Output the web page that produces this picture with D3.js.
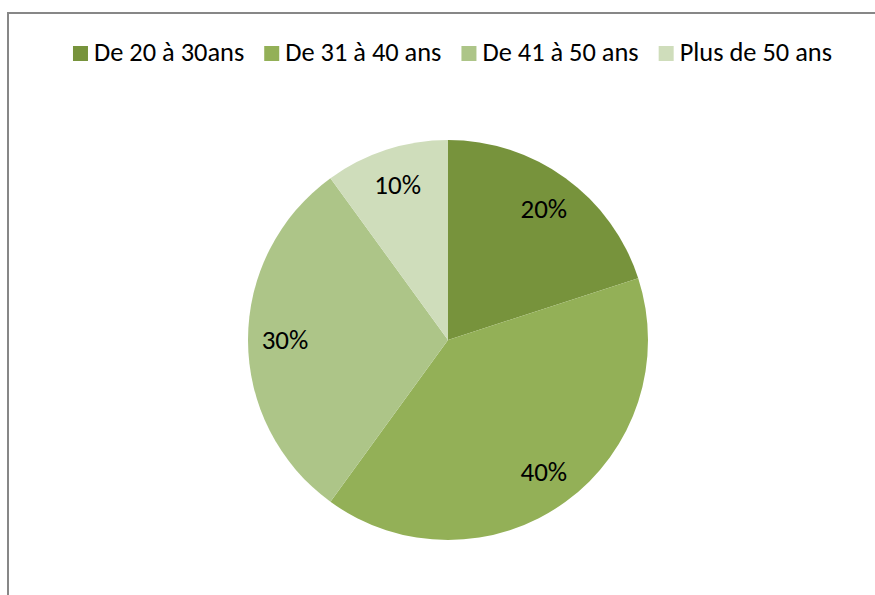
<!DOCTYPE html>
<html>
<head>
<meta charset="utf-8">
<script src="https://cdn.jsdelivr.net/npm/d3@7"></script>
<style>
  body { margin: 0; background: #fff; }
  text { font-family: Carlito, Calibri, Lato, sans-serif; fill: #000; }
</style>
</head>
<body>
<svg id="pie-chart-svg" width="875" height="595"></svg>
<script>
let categories = ["De 20 à 30ans", "De 31 à 40 ans", "De 41 à 50 ans", "Plus de 50 ans"];
let values = [20, 40, 30, 10];
let labels = ["20%", "40%", "30%", "10%"];
let colors = ["#77933c", "#93b057", "#adc588", "#cfddbb"];

let svg = d3.select("#pie-chart-svg");
let width = +svg.attr("width");
let height = +svg.attr("height");

// chart frame (only top and left edges visible)
svg.append("path")
  .attr("d", "M8," + height + "V13H" + width)
  .attr("fill", "none")
  .attr("stroke", "#878787")
  .attr("stroke-width", 2);

let cx = 448, cy = 340, radius = 200;

let color = d3.scaleOrdinal().domain(categories).range(colors);
let pie = d3.pie().sort(null).value(function (d) { return d.value; });
let path = d3.arc().outerRadius(radius).innerRadius(0);
let labelArc = d3.arc().outerRadius(163).innerRadius(163);

let data = categories.map(function (c, i) {
  return { cat: c, value: values[i], label: labels[i] };
});

let g = svg.append("g").attr("transform", "translate(" + cx + "," + cy + ")");

let arcs = g.selectAll(".arc")
  .data(pie(data))
  .enter()
  .append("g")
  .attr("class", "arc");

arcs.append("path")
  .attr("d", path)
  .attr("fill", function (d) { return color(d.data.cat); });

arcs.append("text")
  .attr("transform", function (d) { return "translate(" + labelArc.centroid(d) + ")"; })
  .attr("text-anchor", "middle")
  .attr("dy", "0.35em")
  .style("font-size", "27px")
  .text(function (d) { return d.data.label; });

// legend, centred above the pie
let legend = svg.append("g").attr("class", "legend");
let items = legend.selectAll(".item")
  .data(categories)
  .enter()
  .append("g")
  .attr("class", "item");

items.append("rect")
  .attr("width", 15)
  .attr("height", 15)
  .attr("y", 46)
  .attr("fill", function (d) { return color(d); });

items.append("text")
  .attr("x", 21)
  .attr("y", 61)
  .style("font-size", "26.4px")
  .text(function (d) { return d; });

let x = 0;
let offsets = [];
items.each(function () {
  let w = d3.select(this).select("text").node().getComputedTextLength();
  offsets.push(x);
  x += 21 + w + 20;
});
let total = x - 20;
let start = 452.5 - total / 2;
items.attr("transform", function (d, i) { return "translate(" + (start + offsets[i]) + ",0)"; });
</script>
</body>
</html>
